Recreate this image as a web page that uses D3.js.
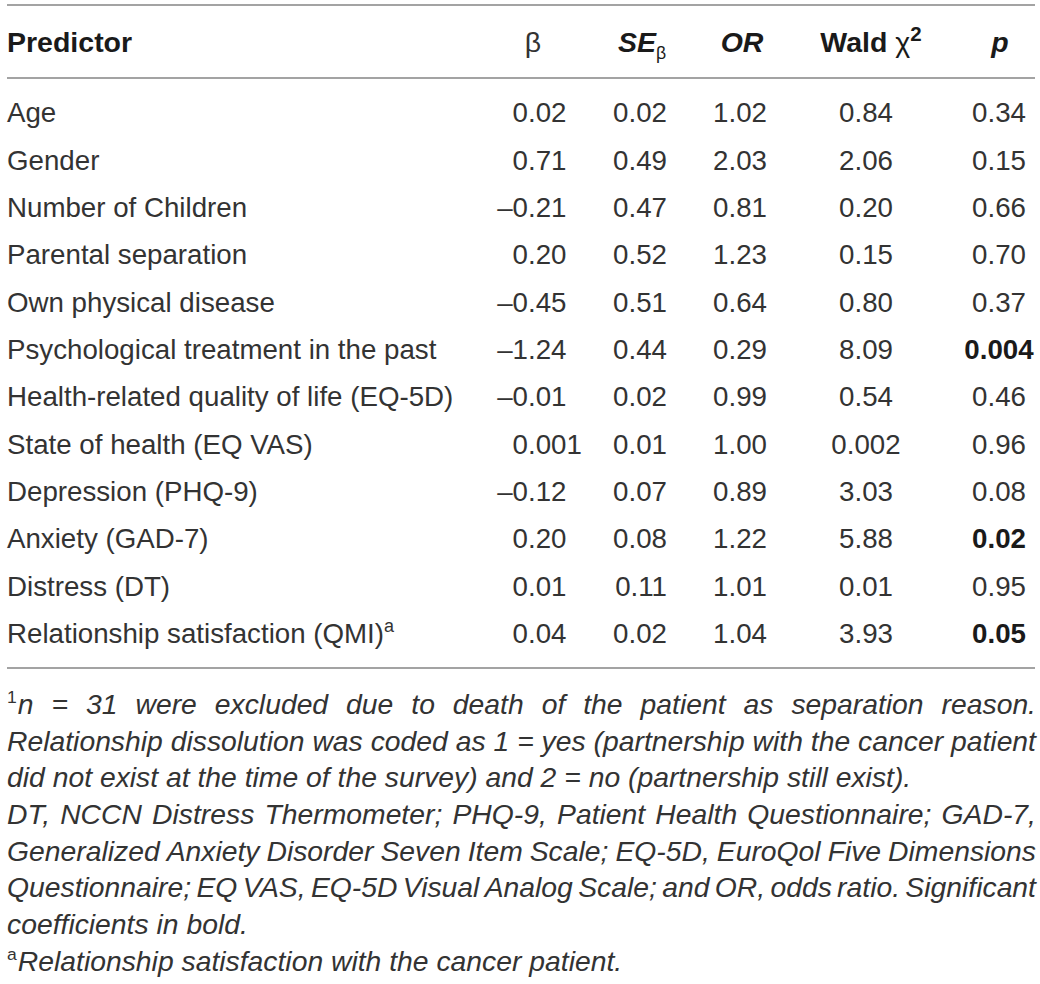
<!DOCTYPE html>
<html>
<head>
<meta charset="utf-8">
<script src="https://cdn.jsdelivr.net/npm/d3@7"></script>
<style>
  body { margin: 0; background: #fff; }
  svg text { fill: #333; }
</style>
</head>
<body>
<svg id="table"></svg>
<script>
const size = {w: 1040, h: 984};
const margin = {l: 7, r: 5};

const predictors = [
    'Age', 'Gender', 'Number of Children', 'Parental separation',
    'Own physical disease', 'Psychological treatment in the past',
    'Health-related quality of life (EQ-5D)', 'State of health (EQ VAS)',
    'Depression (PHQ-9)', 'Anxiety (GAD-7)', 'Distress (DT)',
    'Relationship satisfaction (QMI)'
];
const beta = [0.02, 0.71, -0.21, 0.20, -0.45, -1.24, -0.01, 0.001, -0.12, 0.20, 0.01, 0.04];
const se = [0.02, 0.49, 0.47, 0.52, 0.51, 0.44, 0.02, 0.01, 0.07, 0.08, 0.11, 0.02];
const oddsRatio = [1.02, 2.03, 0.81, 1.23, 0.64, 0.29, 0.99, 1.00, 0.89, 1.22, 1.01, 1.04];
const wald = [0.84, 2.06, 0.20, 0.15, 0.80, 8.09, 0.54, 0.002, 3.03, 5.88, 0.01, 3.93];
const pValue = [0.34, 0.15, 0.66, 0.70, 0.37, 0.004, 0.46, 0.96, 0.08, 0.02, 0.95, 0.05];
const significant = [false, false, false, false, false, true, false, false, false, true, false, true];
const footnoteMark = [null, null, null, null, null, null, null, null, null, null, null, 'a'];

// footnote paragraphs, broken into lines as printed
const notes = [
    {sup: '1', lines: [
        'n = 31 were excluded due to death of the patient as separation reason.',
        'Relationship dissolution was coded as 1 = yes (partnership with the cancer patient',
        'did not exist at the time of the survey) and 2 = no (partnership still exist).'
    ]},
    {sup: null, lines: [
        'DT, NCCN Distress Thermometer; PHQ-9, Patient Health Questionnaire; GAD-7,',
        'Generalized Anxiety Disorder Seven Item Scale; EQ-5D, EuroQol Five Dimensions',
        'Questionnaire; EQ VAS, EQ-5D Visual Analog Scale; and OR, odds ratio. Significant',
        'coefficients in bold.'
    ]},
    {sup: 'a', lines: [
        'Relationship satisfaction with the cancer patient.'
    ]}
];

const bodyFont = "'Liberation Sans', Arial, Helvetica, sans-serif";
const fontSize = 27.7;
const headSize = 28.5;
const noteSize = 27;
const ruleColor = '#a3a3a3';
const strongColor = '#1a1a1a';

const svg = d3.select('svg#table')
    .attr('width', size.w)
    .attr('height', size.h);

function fmt(v) {
    let a = Math.abs(v);
    let s = (a > 0 && a < 0.01) ? a.toFixed(3) : a.toFixed(2);
    return (v < 0 ? '\u2013' : '') + s;
}

// rows
let y = d3.scaleBand()
    .domain(d3.range(predictors.length))
    .range([88, 656]);

// column positions
let colX = {beta: 528, se: 667, or: 767, wald: 866, p: 999};
let headerY = 52;

const rules = [5, 78, 668];
svg.append('g')
    .selectAll('line')
    .data(rules)
    .join('line')
    .attr('x1', margin.l)
    .attr('x2', size.w - margin.r)
    .attr('y1', d => d)
    .attr('y2', d => d)
    .attr('stroke', ruleColor)
    .attr('stroke-width', 2);

// header
const head = svg.append('g')
    .attr('font-family', bodyFont)
    .attr('font-size', headSize)
    .style('fill', strongColor);

head.append('text')
    .attr('x', margin.l)
    .attr('y', headerY)
    .attr('font-weight', 'bold')
    .style('fill', strongColor)
    .text('Predictor');

head.append('text')
    .attr('x', 533)
    .attr('y', headerY)
    .attr('text-anchor', 'middle')
    .text('\u03b2');

let seHead = head.append('text')
    .attr('x', 642)
    .attr('y', headerY)
    .attr('text-anchor', 'middle')
    .style('fill', strongColor);
seHead.append('tspan').attr('font-weight', 'bold').attr('font-style', 'italic').text('SE');
seHead.append('tspan').attr('font-size', headSize * 0.62).attr('dy', 7).text('\u03b2');

head.append('text')
    .attr('x', 742)
    .attr('y', headerY)
    .attr('text-anchor', 'middle')
    .attr('font-weight', 'bold')
    .attr('font-style', 'italic')
    .style('fill', strongColor)
    .text('OR');

let waldHead = head.append('text')
    .attr('x', 871)
    .attr('y', headerY)
    .attr('text-anchor', 'middle')
    .style('fill', strongColor);
waldHead.append('tspan').attr('font-weight', 'bold').text('Wald ');
waldHead.append('tspan').text('\u03c7');
waldHead.append('tspan').attr('font-weight', 'bold').attr('font-size', headSize * 0.72).attr('dy', -11).text('2');

head.append('text')
    .attr('x', 1000)
    .attr('y', headerY)
    .attr('text-anchor', 'middle')
    .attr('font-weight', 'bold')
    .attr('font-style', 'italic')
    .style('fill', strongColor)
    .text('p');

// body rows
const rows = svg.append('g')
    .attr('font-family', bodyFont)
    .attr('font-size', fontSize)
    .selectAll('g')
    .data(predictors.map((name, i) => ({
        name: name, beta: beta[i], se: se[i], or: oddsRatio[i],
        wald: wald[i], p: pValue[i], sig: significant[i], mark: footnoteMark[i]
    })))
    .join('g')
    .attr('transform', (d, i) => `translate(0, ${y(i) + y.bandwidth() / 2 + 10.5})`);

rows.each(function(d) {
    let g = d3.select(this);
    let label = g.append('text').attr('x', margin.l).text(d.name);
    if (d.mark) {
        label.append('tspan')
            .attr('font-size', fontSize * 0.65)
            .attr('dy', -11)
            .text(d.mark);
    }

    // beta, aligned on the decimal point
    let s = fmt(d.beta);
    let dot = s.indexOf('.');
    g.append('text').attr('x', colX.beta).attr('text-anchor', 'end').text(s.slice(0, dot));
    g.append('text').attr('x', colX.beta).text(s.slice(dot));

    g.append('text').attr('x', colX.se).attr('text-anchor', 'end').text(fmt(d.se));
    g.append('text').attr('x', colX.or).attr('text-anchor', 'end').text(fmt(d.or));
    g.append('text').attr('x', colX.wald).attr('text-anchor', 'middle').text(fmt(d.wald));
    g.append('text').attr('x', colX.p).attr('text-anchor', 'middle')
        .attr('font-weight', d.sig ? 'bold' : null)
        .style('fill', d.sig ? strongColor : null)
        .text(fmt(d.p));
});

// footnotes: condensed italic, justified except the last line of a paragraph
const lineH = 36.7;
const firstBase = 714;
const fullW = size.w - margin.r - margin.l + 1;

const notesG = svg.append('g')
    .attr('font-family', bodyFont)
    .attr('font-size', noteSize)
    .attr('font-style', 'italic');

let probe = notesG.append('text').attr('x', -2000).attr('y', -1000);
function measure(str, opts) {
    probe.attr('font-size', opts ? opts.size : null)
        .attr('font-style', opts ? opts.style : null)
        .text(str);
    return probe.node().getComputedTextLength();
}
// squeeze horizontally so the full printed line fits the width
const sx = fullW / measure(notes[0].lines[1]);
notesG.attr('transform', `translate(${margin.l}, 0) scale(${sx}, 1)`);
const innerW = fullW / sx;
const spaceW = measure('a a') - measure('aa');

let lineNo = 0;
notes.forEach(note => {
    let supW = note.sup ? measure(note.sup, {size: noteSize * 0.62, style: 'normal'}) + 1 : 0;
    note.lines.forEach((line, li) => {
        let base = firstBase + lineNo * lineH;
        let x0 = li === 0 ? supW : 0;
        if (li === 0 && note.sup) {
            notesG.append('text')
                .attr('x', 0)
                .attr('y', base - 11)
                .attr('font-size', noteSize * 0.62)
                .attr('font-style', 'normal')
                .text(note.sup);
        }
        let words = line.split(' ');
        let widths = words.map(w => measure(w));
        let last = li === note.lines.length - 1;
        let gap = spaceW;
        if (!last && words.length > 1) {
            gap = (innerW - x0 - d3.sum(widths)) / (words.length - 1);
        }
        let x = x0;
        words.forEach((w, wi) => {
            notesG.append('text').attr('x', x).attr('y', base).text(w);
            x += widths[wi] + gap;
        });
        lineNo++;
    });
});
probe.remove();
</script>
</body>
</html>
